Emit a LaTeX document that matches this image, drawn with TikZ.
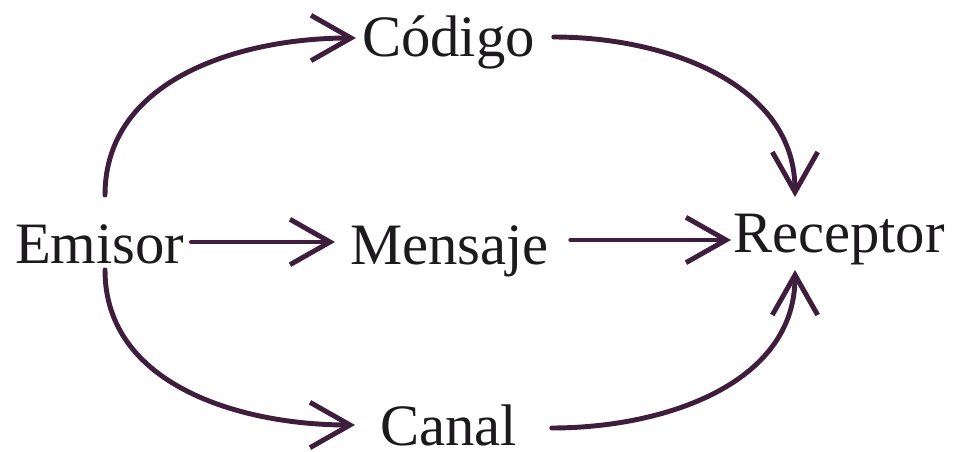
\documentclass[tikz,border=0pt]{standalone}
\usepackage{fontspec}
\setmainfont{Liberation Serif}
\usetikzlibrary{arrows.meta}
\definecolor{arrowcol}{RGB}{62,30,60}
\definecolor{textcol}{RGB}{28,26,28}
\begin{document}
\begin{tikzpicture}[x=0.75pt,y=-0.75pt,
  word/.style={anchor=base west,inner sep=0pt,outer sep=0pt,text=textcol,
    font=\fontsize{44}{50}\selectfont},
  flow/.style={draw=arrowcol,line width=3.7pt,line cap=round,
    -{Straight Barb[length=30pt,width=34pt]}}]
\useasboundingbox (0,0) rectangle (957,452);

% the five words
\node[word] (emisor)   at (15,264)  {Emisor};
\node[word] (codigo)   at (362,57)  {Código};
\node[word] (mensaje)  at (350,265) {Mensaje};
\node[word] (canal)    at (380,445) {Canal};
\node[word] (receptor) at (733,253) {Receptor};

% straight middle row
\draw[flow] ([shift={(7,-22)}]emisor.base east) -- ([shift={(-15,-23)}]mensaje.base west);
\draw[flow] ([shift={(22,-25)}]mensaje.base east) -- ([shift={(-2,-13)}]receptor.base west);

% curved paths through Código and Canal
\draw[flow] ([shift={(90,-69)}]emisor.base west) to[out=90,in=180] ([shift={(-6,-19)}]codigo.base west);
\draw[flow] ([shift={(90,6)}]emisor.base west) to[out=-90,in=180] ([shift={(-25,-20)}]canal.base west);
\draw[flow] ([shift={(19,-20)}]codigo.base east) to[out=0,in=90] ([shift={(62,-56)}]receptor.base west);
\draw[flow] ([shift={(35,-17)}]canal.base east) to[out=0,in=-90] ([shift={(62,17)}]receptor.base west);
\end{tikzpicture}
\end{document}
